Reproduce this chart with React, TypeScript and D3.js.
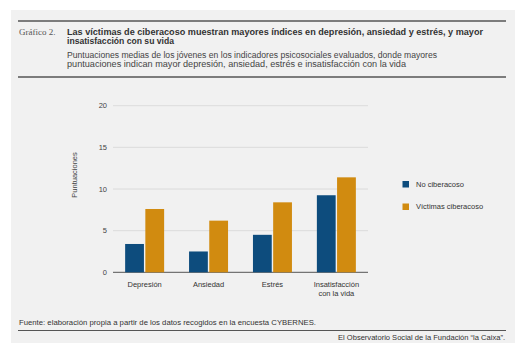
import React from "react";
import * as d3 from "d3";

const categories = ["Depresión", "Ansiedad", "Estrés", "Insatisfacción|con la vida"];
const seriesNames = ["No ciberacoso", "Víctimas ciberacoso"];
const noCiberacoso = [3.4, 2.5, 4.5, 9.25];
const victimas = [7.6, 6.2, 8.4, 11.4];
const yTicks = [0, 5, 10, 15, 20];
const colors = ["#0d4c7d", "#d18b10"];

const titleLines = [
  "Las víctimas de ciberacoso muestran mayores índices en depresión, ansiedad y estrés, y mayor",
  "insatisfacción con su vida",
];
const subtitleLines = [
  "Puntuaciones medias de los jóvenes en los indicadores psicosociales evaluados, donde mayores",
  "puntuaciones indican mayor depresión, ansiedad, estrés e insatisfacción con la vida",
];
const source = "Fuente: elaboración propia a partir de los datos recogidos en la encuesta CYBERNES.";
const credit = "El Observatorio Social de la Fundación “la Caixa”.";

const sans = "'Liberation Sans', Arial, sans-serif";

export default function App() {
  const x0 = d3.scaleBand().domain(categories).range([113, 368]).paddingInner(0.39).paddingOuter(0.19);
  const x1 = d3.scaleBand().domain(seriesNames).range([0, x0.bandwidth()]).paddingInner(0.07);
  const y = d3.scaleLinear().domain([0, 20]).range([272.3, 105.7]);
  const series = [noCiberacoso, victimas];

  return (
    <svg width={525} height={350} style={{ position: "absolute", left: 0, top: 0, background: "#fff" }}>
      <rect x={11} y={10} width={504} height={333} fill="#f1f1f1" />
      <line x1={18} x2={506} y1={21} y2={21} stroke="#555" strokeWidth={1.3} />
      <line x1={18} x2={506} y1={77} y2={77} stroke="#555" strokeWidth={1.3} />
      <text x={19} y={34.5} fontFamily="'Liberation Serif', 'DejaVu Serif', serif" fontSize={9} fill="#555">Gráfico 2.</text>
      {titleLines.map((t, i) => (
        <text key={t} x={67} y={34.5 + i * 9.3} fontFamily={sans} fontWeight="bold" fontSize={8.6} fill="#333"
          textLength={i === 0 ? 416 : undefined} lengthAdjust="spacingAndGlyphs">{t}</text>
      ))}
      {subtitleLines.map((t, i) => (
        <text key={t} x={67} y={58 + i * 9} fontFamily={sans} fontSize={8.4} fill="#444"
          textLength={i === 0 ? 370 : 339} lengthAdjust="spacingAndGlyphs">{t}</text>
      ))}

      {yTicks.map((v) => (
        <g key={v}>
          <line x1={113} x2={368} y1={y(v)} y2={y(v)} stroke={v === 0 ? "#555" : "#d6d6d6"} strokeWidth={v === 0 ? 1 : 0.8} />
          <text x={107} y={y(v)} dy="0.35em" textAnchor="end" fontFamily={sans} fontSize={7.5} fill="#444">{v}</text>
        </g>
      ))}
      <text transform="translate(77,175) rotate(-90)" textAnchor="middle" fontFamily={sans} fontSize={7.5} fill="#444">Puntuaciones</text>

      {categories.map((c, ci) => (
        <g key={c} transform={`translate(${x0(c)},0)`}>
          {seriesNames.map((s, si) => (
            <rect key={s} x={x1(s)} y={y(series[si][ci])} width={x1.bandwidth()} height={y(0) - y(series[si][ci])} fill={colors[si]} />
          ))}
          {c.split("|").map((line, li) => (
            <text key={line} x={x0.bandwidth() / 2} y={287 + li * 9} textAnchor="middle" fontFamily={sans} fontSize={7.5} fill="#333">{line}</text>
          ))}
        </g>
      ))}

      {seriesNames.map((s, i) => (
        <g key={s} transform={`translate(402.5,${181 + i * 22.5})`}>
          <rect width={6.5} height={6.5} fill={colors[i]} />
          <text x={13.5} y={3.3} dy="0.35em" fontFamily={sans} fontSize={7.5} fill="#333">{s}</text>
        </g>
      ))}

      <text x={19} y={325} fontFamily={sans} fontSize={7.3} fill="#333" textLength={297} lengthAdjust="spacingAndGlyphs">{source}</text>
      <line x1={18} x2={506} y1={330.5} y2={330.5} stroke="#555" strokeWidth={1.2} />
      <text x={505} y={339.5} textAnchor="end" fontFamily={sans} fontSize={7.5} fill="#333" textLength={167} lengthAdjust="spacingAndGlyphs">{credit}</text>
    </svg>
  );
}
